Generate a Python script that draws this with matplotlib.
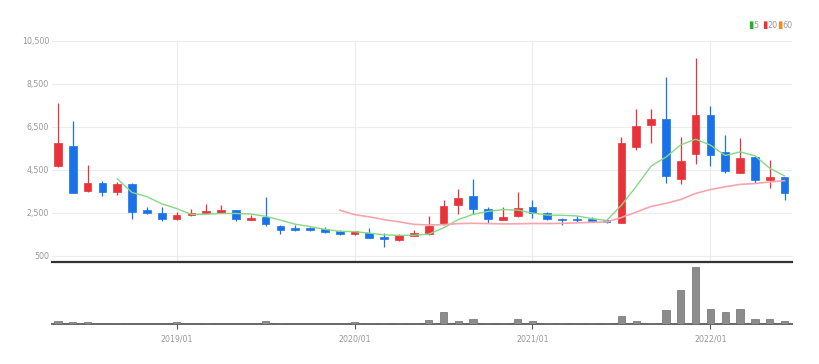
import matplotlib
matplotlib.use("Agg")
import matplotlib.pyplot as plt
from matplotlib.patches import Rectangle
from matplotlib import font_manager as fm
import numpy as np

# ---- data (monthly candles, 2018/05 .. 2022/06) ----
months = ["2018/05", "2018/06", "2018/07", "2018/08", "2018/09", "2018/10", "2018/11", "2018/12",
          "2019/01", "2019/02", "2019/03", "2019/04", "2019/05", "2019/06", "2019/07", "2019/08",
          "2019/09", "2019/10", "2019/11", "2019/12", "2020/01", "2020/02", "2020/03", "2020/04",
          "2020/05", "2020/06", "2020/07", "2020/08", "2020/09", "2020/10", "2020/11", "2020/12",
          "2021/01", "2021/02", "2021/03", "2021/04", "2021/05", "2021/06", "2021/07", "2021/08",
          "2021/09", "2021/10", "2021/11", "2021/12", "2022/01", "2022/02", "2022/03", "2022/04",
          "2022/05", "2022/06"]
opens = [4690, 5620, 3510, 3870, 3480, 3840, 2630, 2460, 2200, 2390, 2480, 2500, 2610, 2160, 2290, 1880,
         1780, 1770, 1730, 1620, 1500, 1560, 1360, 1230, 1420, 1500, 1990, 2870, 3290, 2690, 2160, 2330,
         2740, 2460, 2220, 2210, 2210, 2150, 2030, 5570, 6560, 6840, 4060, 5220, 7050, 5340, 4360, 5110,
         4020, 4150]
highs = [7590, 6780, 4720, 3980, 3940, 3870, 2750, 2750, 2535, 2690, 2910, 2830, 2630, 2395, 3220, 1930,
         1930, 1850, 1850, 1700, 1660, 1760, 1570, 1480, 1700, 2320, 3090, 3590, 4050, 2750, 2780, 3470,
         3080, 2535, 2250, 2350, 2290, 2180, 6010, 7310, 7330, 8830, 6010, 9710, 7460, 6120, 5990, 5150,
         4950, 4150]
lows = [4600, 3400, 3460, 3280, 3325, 2200, 2430, 2130, 2150, 2350, 2430, 2470, 2120, 2150, 1880, 1510,
        1630, 1640, 1545, 1450, 1460, 1300, 890, 1185, 1390, 1450, 1930, 2430, 2440, 2010, 2160, 2300,
        2270, 2150, 1920, 2070, 2040, 2030, 2000, 5420, 5730, 3900, 3820, 4750, 4670, 4320, 4330, 3900,
        3640, 3090]
closes = [5760, 3430, 3870, 3480, 3840, 2550, 2470, 2200, 2380, 2490, 2580, 2630, 2210, 2255, 1960, 1700,
          1670, 1670, 1600, 1500, 1620, 1340, 1260, 1470, 1530, 1880, 2810, 3200, 2670, 2210, 2290, 2720,
          2500, 2200, 2160, 2140, 2100, 2060, 5760, 6550, 6860, 4180, 4920, 7050, 5190, 4440, 5030, 4010,
          4150, 3420]
volumes = [30, 23, 23, 4, 13, 4, 4, 4, 17, 4, 13, 4, 4, 4, 27, 13,
           4, 4, 4, 4, 17, 13, 13, 13, 12, 40, 113, 30, 43, 13, 13, 43,
           27, 13, 13, 13, 5, 5, 80, 30, 13, 130, 323, 543, 147, 110, 143, 43,
           47, 30]
# moving averages (None = not drawn)
ma5 = [None, None, None, None, 4076, 3434, 3242, 2908, 2688, 2418, 2424, 2456, 2458, 2433, 2327, 2151,
       1959, 1851, 1720, 1628, 1612, 1546, 1464, 1438, 1444, 1496, 1790, 2178, 2418, 2554, 2636, 2618,
       2478, 2384, 2374, 2344, 2220, 2132, 2844, 3722, 4666, 5082, 5654, 5912, 5640, 5156, 5326, 5144,
       4564, 4208]
ma20 = [None] * 19 + [2612, 2405, 2301, 2170, 2070, 1954, 1921, 1938, 1988, 2002, 1988, 1974, 1978,
                      1993, 1990, 2000, 2022, 2044, 2063, 2271, 2524, 2786, 2928, 3111, 3390, 3573, 3701,
                      3812, 3852, 3926, 3987]
yticks = [500, 2500, 4500, 6500, 8500, 10500]
xtick_labels = ["2019/01", "2020/01", "2021/01", "2022/01"]
legend_labels = ["5", "20", "60"]

# ---- style ----
UP = "#e8333a"
DOWN = "#1a72e8"
MA5_C = "#86d886"
MA20_C = "#f6a5ae"
GRID = "#ececec"
TXT = "#999999"

# pick a narrow font if one is available
FONT = ["DejaVu Sans"]
STRETCH = "normal"
try:
    p = fm.findfont(fm.FontProperties(family="Liberation Sans Narrow"), fallback_to_default=False)
    FONT = ["Liberation Sans Narrow", "DejaVu Sans"]
except Exception:
    try:
        p = fm.findfont(fm.FontProperties(family="DejaVu Sans", stretch="condensed"))
        if "ondensed" in p:
            STRETCH = "condensed"
    except Exception:
        pass
plt.rcParams["font.family"] = FONT
plt.rcParams["font.stretch"] = STRETCH

fig = plt.figure(figsize=(8.2, 3.64), dpi=100)
W, H = 820, 364
L, R = 52, 792
ax = fig.add_axes([L / W, 1 - 262 / H, (R - L) / W, (262 - 40.7) / H])
axv = fig.add_axes([L / W, 1 - 324 / H, (R - L) / W, (324 - 267) / H])

x = np.arange(len(months))
xlim = (-0.4, 49.5)

# candles
bw = 0.52
for i in x:
    o, h, l, c = opens[i], highs[i], lows[i], closes[i]
    col = UP if c >= o else DOWN
    ax.vlines(i, l, h, color=col, lw=0.9, zorder=3)
    bot = min(o, c)
    hgt = max(abs(c - o), 45)
    ax.add_patch(Rectangle((i - bw / 2, bot), bw, hgt, facecolor=col, edgecolor=col, lw=0.5, zorder=4))

ma5_arr = np.array([np.nan if v is None else v for v in ma5], dtype=float)
ma20_arr = np.array([np.nan if v is None else v for v in ma20], dtype=float)
ax.plot(x, ma5_arr, color=MA5_C, lw=1.0, zorder=5)
ax.plot(x, ma20_arr, color=MA20_C, lw=1.2, zorder=5)

ax.set_xlim(*xlim)
ax.set_ylim(200, 10500)
ax.set_yticks(yticks)
ax.set_yticklabels([f"{v:,}" for v in yticks])
ax.tick_params(axis="y", length=0, labelsize=6.3, colors=TXT, pad=2)
tick_pos = [months.index(m) for m in xtick_labels]
ax.set_xticks(tick_pos)
ax.tick_params(axis="x", length=0, labelbottom=False)
ax.grid(True, color=GRID, lw=0.8, zorder=0)
for s in ["top", "right", "left"]:
    ax.spines[s].set_visible(False)
ax.spines["bottom"].set_color("#333333")
ax.spines["bottom"].set_linewidth(1.6)

# volume
axv.bar(x, volumes, width=0.5, color="#8c8c8c", edgecolor="#6e6e6e", lw=0.5, zorder=3)
axv.set_xlim(*xlim)
axv.set_ylim(0, max(volumes) * 1.0)
axv.set_yticks([])
axv.set_xticks(tick_pos)
axv.set_xticklabels(xtick_labels)
axv.tick_params(axis="x", length=3.5, width=0.8, color="#555555", labelsize=6.3, labelcolor=TXT, pad=4)
for s in ["top", "right", "left"]:
    axv.spines[s].set_visible(False)
axv.spines["bottom"].set_color("#666666")
axv.spines["bottom"].set_linewidth(1.4)

# legend (top right)
leg_colors = ["#22b32b", "#e8333a", "#f28c1c"]
lx = [748, 762, 777]
for px, col, lab in zip(lx, leg_colors, legend_labels):
    fig.text(px / W, 1 - 25 / H, "\u25AE", color=col, fontsize=7, va="center", ha="left",
             family=["DejaVu Sans"], stretch="normal")
    fig.text((px + 5) / W, 1 - 25 / H, lab, color=TXT, fontsize=6.5, va="center", ha="left")

fig.savefig("out.png", dpi=100, facecolor="white")
